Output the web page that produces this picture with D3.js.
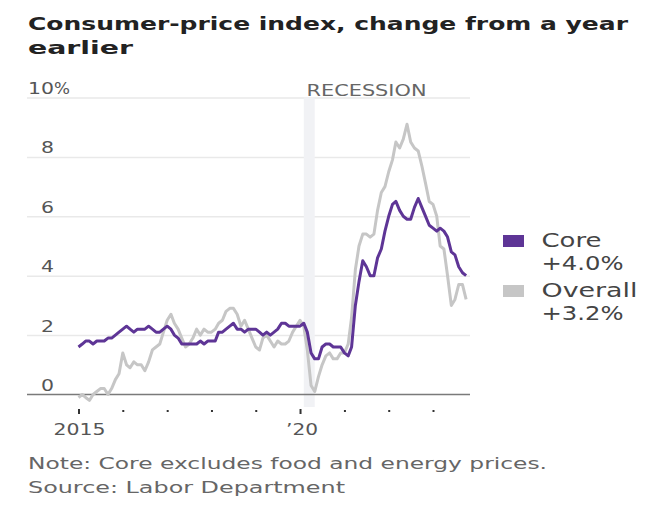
<!DOCTYPE html>
<html><head><meta charset="utf-8">
<script src="https://cdn.jsdelivr.net/npm/d3@7"></script>
<style>body{margin:0;background:#fff}svg{display:block}</style>
</head><body><svg id="c" width="661" height="516"></svg>
<script>
// ---- data (monthly, Jan 2015 – Oct 2023) ----
const firstMonth = [2015, 0];
const overall = [
  -0.1,0.0,-0.1,-0.2,0.0,0.1,0.2,0.2,0.0,0.2,0.5,0.7,
  1.4,1.0,0.9,1.1,1.0,1.0,0.8,1.1,1.5,1.6,1.7,2.1,
  2.5,2.7,2.4,2.2,1.9,1.6,1.7,1.9,2.2,2.0,2.2,2.1,
  2.1,2.2,2.4,2.5,2.8,2.9,2.9,2.7,2.3,2.5,2.2,1.9,
  1.6,1.5,1.9,2.0,1.8,1.6,1.8,1.7,1.7,1.8,2.1,2.3,
  2.5,2.3,1.5,0.3,0.1,0.6,1.0,1.3,1.4,1.2,1.2,1.4,
  1.4,1.7,2.6,4.2,5.0,5.4,5.4,5.3,5.4,6.2,6.8,7.0,
  7.5,7.9,8.5,8.3,8.6,9.1,8.5,8.3,8.2,7.7,7.1,6.5,
  6.4,6.0,5.0,4.9,4.0,3.0,3.2,3.7,3.7,3.2
];
const core = [
  1.6,1.7,1.8,1.8,1.7,1.8,1.8,1.8,1.9,1.9,2.0,2.1,
  2.2,2.3,2.2,2.1,2.2,2.2,2.2,2.3,2.2,2.1,2.1,2.2,
  2.3,2.2,2.0,1.9,1.7,1.7,1.7,1.7,1.7,1.8,1.7,1.8,
  1.8,1.8,2.1,2.1,2.2,2.3,2.4,2.2,2.2,2.1,2.2,2.2,
  2.2,2.1,2.0,2.1,2.0,2.1,2.2,2.4,2.4,2.3,2.3,2.3,
  2.3,2.4,2.1,1.4,1.2,1.2,1.6,1.7,1.7,1.6,1.6,1.6,
  1.4,1.3,1.6,3.0,3.8,4.5,4.3,4.0,4.0,4.6,4.9,5.5,
  6.0,6.4,6.5,6.2,6.0,5.9,5.9,6.3,6.6,6.3,6.0,5.7,
  5.6,5.5,5.6,5.5,5.3,4.8,4.7,4.3,4.1,4.0
];
const yTicks = [0, 2, 4, 6, 8, 10];
const xTickYears = [2015, 2016, 2017, 2018, 2019, 2020, 2021, 2022, 2023];
const xTickLabels = {2015: "2015", 2020: "\u201920"};
const majorYears = [2015, 2020];
const recession = [[2020, 1], [2020, 4]]; // Feb 2020 – Apr 2020
const legendNames = ["Core", "Overall"];
const legendValues = ["+4.0%", "+3.2%"];
const titleLines = ["Consumer-price index, change from a year", "earlier"];
const footLines = ["Note: Core excludes food and energy prices.", "Source: Labor Department"];

// ---- setup ----
const svg = d3.select("#c");
const FONT = "DejaVu Sans";
const PURPLE = "#5e3596", GREY = "#c6c6c6";
const fit = (sel, w) => sel.attr("textLength", w).attr("lengthAdjust", "spacingAndGlyphs");

const dates = overall.map((_, i) => new Date(firstMonth[0], firstMonth[1] + i, 1));
const x = d3.scaleTime().domain([new Date(2015,0,1), new Date(2023,0,1)]).range([78.5, 433]);
const y = d3.scaleLinear().domain([0, 10]).range([394.5, 97.5]);
const gridL = 27, gridR = 470;

// title
titleLines.forEach((t, i) => {
  svg.append("text").attr("x", 28).attr("y", 30 + i * 24)
    .attr("font-family", FONT).attr("font-weight", "bold").attr("font-size", 18)
    .attr("fill", "#222").text(t).call(fit, i === 0 ? 600 : 105);
});

// gridlines via axis
const gy = svg.append("g").attr("transform", `translate(${gridR},0)`)
  .call(d3.axisLeft(y).tickValues(yTicks.filter(d => d > 0)).tickSize(gridR - gridL).tickFormat(""));
gy.select(".domain").remove();
gy.selectAll(".tick line").attr("stroke", "#e9e9e9").attr("stroke-width", 1.5);

// recession band
svg.append("rect")
  .attr("x", x(new Date(recession[0][0], recession[0][1], 1)))
  .attr("width", x(new Date(recession[1][0], recession[1][1], 1)) - x(new Date(recession[0][0], recession[0][1], 1)))
  .attr("y", y(10)).attr("height", 407 - y(10))
  .attr("fill", "#f1f2f5");
svg.append("text").attr("x", 306.5).attr("y", 95.5)
  .attr("font-family", FONT).attr("font-size", 15.5).attr("fill", "#666")
  .text("RECESSION").call(fit, 120);

// y labels
yTicks.forEach(v => {
  const t = svg.append("text").attr("x", 54).attr("y", y(v) - 3.5)
    .attr("text-anchor", "end").attr("font-family", FONT).attr("font-size", 16.5)
    .attr("fill", "#555").text(v);
  t.call(fit, String(v).length * 13);
  if (v === 10) {
    svg.append("text").attr("x", 54).attr("y", y(v) - 3.5)
      .attr("font-family", FONT).attr("font-size", 16.5).attr("fill", "#555")
      .text("%").call(fit, 16);
  }
});

// zero baseline
svg.append("line").attr("x1", gridL).attr("x2", gridR).attr("y1", y(0)).attr("y2", y(0))
  .attr("stroke", "#7a7a7a").attr("stroke-width", 1.6);

// x axis ticks
const gx = svg.append("g").attr("transform", "translate(0,408.5)")
  .call(d3.axisBottom(x).tickValues(xTickYears.map(yr => new Date(yr, 0, 1))).tickSize(5).tickFormat(""));
gx.select(".domain").remove();
gx.selectAll(".tick line")
  .attr("stroke", "#333").attr("stroke-width", 2)
  .attr("y1", d => majorYears.includes(d.getFullYear()) ? 0.5 : 1.5)
  .attr("y2", d => majorYears.includes(d.getFullYear()) ? 5.5 : 3.5);
gx.selectAll(".tick").each(function(d) {
  const lab = xTickLabels[d.getFullYear()];
  if (lab) {
    d3.select(this).append("text").attr("y", 26).attr("x", lab.length === 4 ? 0.5 : 1.5)
      .attr("text-anchor", "middle").attr("font-family", FONT).attr("font-size", 16.5)
      .attr("fill", "#555").text(lab).call(fit, lab.length === 4 ? 52 : 32);
  }
});

// lines
const line = d3.line().x((d, i) => x(dates[i])).y(d => y(d));
svg.append("path").datum(overall).attr("d", line).attr("fill", "none")
  .attr("stroke", GREY).attr("stroke-width", 3).attr("stroke-linejoin", "round");
svg.append("path").datum(core).attr("d", line).attr("fill", "none")
  .attr("stroke", PURPLE).attr("stroke-width", 3).attr("stroke-linejoin", "round");

// legend
const legColors = [PURPLE, GREY];
const legNameW = [60, 96], legValW = [82, 82];
legendNames.forEach((n, i) => {
  const top = 235 + i * 50;
  svg.append("rect").attr("x", 503).attr("y", top).attr("width", 21).attr("height", 12)
    .attr("fill", legColors[i]);
  svg.append("text").attr("x", 541.5).attr("y", top + 11.5)
    .attr("font-family", FONT).attr("font-size", 19).attr("fill", "#444")
    .text(n).call(fit, legNameW[i]);
  svg.append("text").attr("x", 541.5).attr("y", top + 34.5)
    .attr("font-family", FONT).attr("font-size", 19).attr("fill", "#444")
    .text(legendValues[i]).call(fit, legValW[i]);
});

// footer
footLines.forEach((t, i) => {
  svg.append("text").attr("x", 28).attr("y", 469 + i * 24)
    .attr("font-family", FONT).attr("font-size", 15).attr("fill", "#666")
    .text(t).call(fit, i === 0 ? 519 : 317);
});
</script></body></html>
